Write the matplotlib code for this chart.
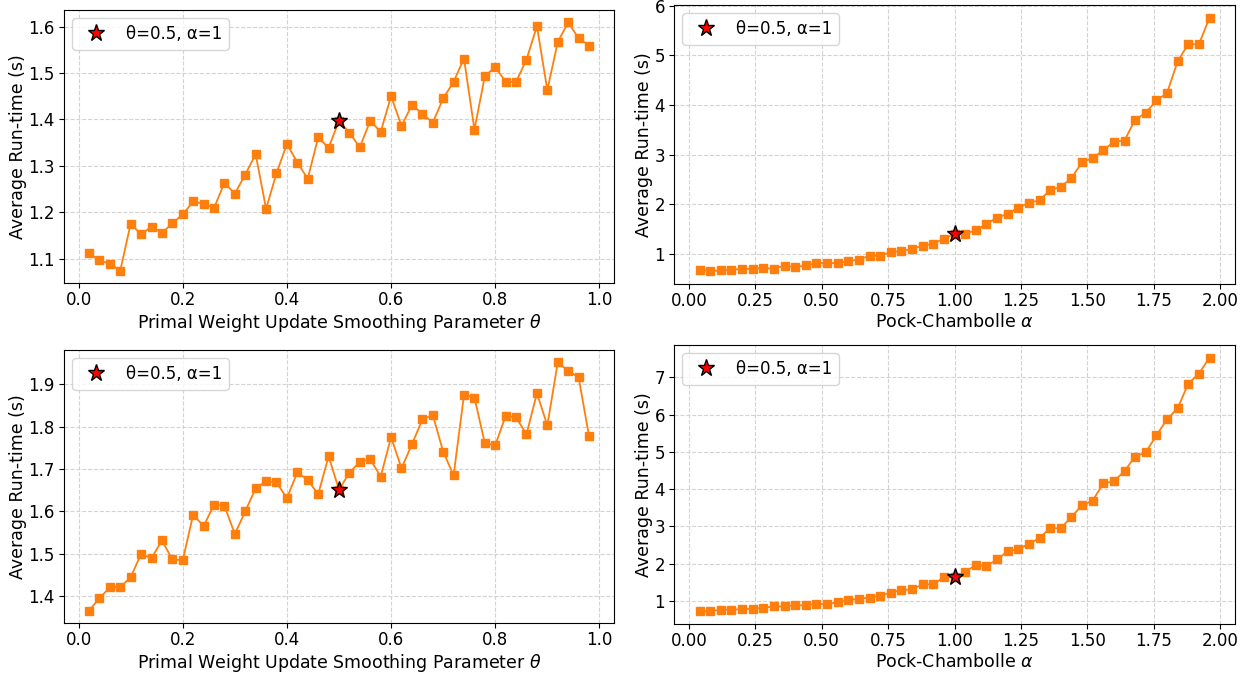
import numpy as np
import matplotlib
matplotlib.use("Agg")
import matplotlib.pyplot as plt

plt.rcParams['font.size'] = 12
plt.rcParams['axes.labelsize'] = 12.5
plt.rcParams['xtick.major.pad'] = 2.0
plt.rcParams['ytick.major.pad'] = 3.0
plt.rcParams['axes.labelpad'] = 2.5

# sweep grids
theta = np.round(np.arange(1, 50) * 0.02, 2)
alpha = np.round(np.arange(1, 50) * 0.04, 2)

# average run-time per setting, problem A (top row)
theta_time_a = [1.111, 1.096, 1.089, 1.074, 1.175, 1.152, 1.169, 1.155, 1.176, 1.195,
                1.223, 1.218, 1.209, 1.263, 1.240, 1.281, 1.325, 1.207, 1.284, 1.347,
                1.307, 1.272, 1.361, 1.339, 1.397, 1.371, 1.340, 1.397, 1.373, 1.450,
                1.386, 1.431, 1.412, 1.393, 1.445, 1.481, 1.531, 1.378, 1.493, 1.513,
                1.481, 1.481, 1.529, 1.601, 1.463, 1.567, 1.609, 1.575, 1.559]
alpha_time_a = [0.684, 0.651, 0.671, 0.677, 0.704, 0.698, 0.718, 0.704, 0.765, 0.731,
                0.772, 0.812, 0.825, 0.812, 0.859, 0.886, 0.966, 0.960, 1.040, 1.054,
                1.108, 1.161, 1.208, 1.309, 1.403, 1.410, 1.477, 1.605, 1.733, 1.806,
                1.934, 2.028, 2.082, 2.284, 2.351, 2.526, 2.848, 2.929, 3.090, 3.258,
                3.285, 3.702, 3.843, 4.091, 4.239, 4.878, 5.227, 5.220, 5.758]

# problem B (bottom row)
theta_time_b = [1.365, 1.394, 1.420, 1.420, 1.444, 1.499, 1.489, 1.531, 1.486, 1.484,
                1.592, 1.565, 1.615, 1.613, 1.546, 1.600, 1.654, 1.671, 1.668, 1.631,
                1.692, 1.674, 1.640, 1.730, 1.651, 1.691, 1.717, 1.723, 1.682, 1.775,
                1.702, 1.758, 1.817, 1.828, 1.741, 1.685, 1.875, 1.869, 1.761, 1.756,
                1.826, 1.822, 1.782, 1.879, 1.803, 1.952, 1.932, 1.917, 1.778]
alpha_time_b = [0.723, 0.723, 0.767, 0.767, 0.776, 0.794, 0.812, 0.857, 0.857, 0.884,
                0.884, 0.928, 0.911, 0.973, 1.018, 1.063, 1.089, 1.143, 1.224, 1.295,
                1.313, 1.447, 1.447, 1.635, 1.644, 1.778, 1.966, 1.930, 2.118, 2.333,
                2.395, 2.530, 2.691, 2.959, 2.950, 3.254, 3.567, 3.692, 4.157, 4.211,
                4.488, 4.873, 4.989, 5.445, 5.875, 6.170, 6.832, 7.100, 7.530]

default_theta = 0.5
default_alpha = 1.0
star_label = "θ=0.5, α=1"


def sweep_plot(ax, x, y, default, xlabel):
    ax.plot(x, y, color='C1', marker='s', markersize=5.5, linewidth=1.3, zorder=2)
    i = int(np.argmin(np.abs(np.asarray(x) - default)))
    ax.plot(x[i], y[i], linestyle='none', marker='*', markersize=12.5,
            markerfacecolor='red', markeredgecolor='black', label=star_label, zorder=3)
    ax.grid(True, linestyle='--', color='lightgray')
    ax.set_axisbelow(True)
    ax.set_xlabel(xlabel)
    ax.set_ylabel("Average Run-time (s)", labelpad=1)
    ax.legend(loc='upper left')


W, H = 1250, 673
fig, axes = plt.subplots(2, 2, figsize=(W / 100, H / 100), dpi=100)
sweep_plot(axes[0, 0], theta, theta_time_a, default_theta,
           r"Primal Weight Update Smoothing Parameter $\theta$")
sweep_plot(axes[0, 1], alpha, alpha_time_a, default_alpha, r"Pock-Chambolle $\alpha$")
sweep_plot(axes[1, 0], theta, theta_time_b, default_theta,
           r"Primal Weight Update Smoothing Parameter $\theta$")
sweep_plot(axes[1, 1], alpha, alpha_time_b, default_alpha, r"Pock-Chambolle $\alpha$")
axes[0, 0].set_yticks([1.1, 1.2, 1.3, 1.4, 1.5, 1.6])

# panel boxes in pixels: left, right, top, bottom
boxes = [[(64, 614, 10, 283), (674, 1235, 5, 284)],
         [(64, 614, 350, 623), (674, 1235, 345, 624)]]
for r in range(2):
    for c in range(2):
        l, rt, t, b = boxes[r][c]
        axes[r, c].set_position([l / W, 1 - b / H, (rt - l) / W, (b - t) / H])

fig.savefig("out.png")
